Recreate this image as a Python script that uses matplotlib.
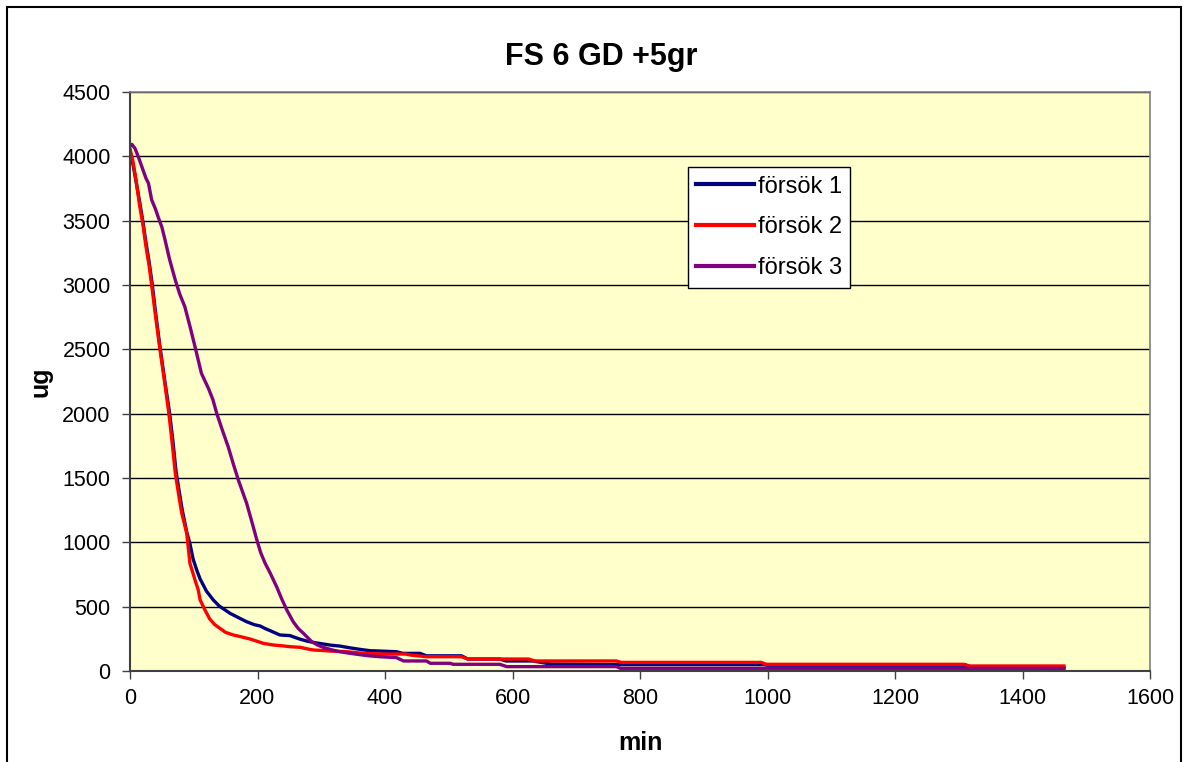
import matplotlib
matplotlib.use("Agg")
import matplotlib.pyplot as plt
from matplotlib.patches import Rectangle

plt.rcParams['font.family'] = ['Liberation Sans', 'DejaVu Sans']

# försök 1
t1 = [0, 5, 10, 15, 20, 25, 30, 35, 40, 47, 55, 62, 67, 72, 77, 82, 89, 94, 99, 105,
      110, 120, 131, 140, 157, 172, 183, 195, 204, 212, 220, 235, 251, 265, 277, 290,
      303, 316, 329, 345, 361, 376, 418, 428, 455, 465, 520, 530, 580, 590, 632, 660,
      766, 993, 1000, 1312, 1320, 1465]
y1 = [4040, 3930, 3790, 3650, 3500, 3330, 3180, 3000, 2790, 2520, 2240, 2010, 1800, 1560,
      1400, 1250, 1080, 990, 870, 780, 715, 620, 550, 505, 448, 410, 383, 360, 350, 330,
      313, 280, 275, 250, 233, 220, 210, 200, 194, 180, 168, 158, 150, 137, 137, 118,
      118, 93, 93, 78, 78, 54, 50, 50, 45, 45, 30, 25]

# försök 2
t2 = [0, 5, 10, 15, 20, 25, 30, 35, 40, 47, 55, 61, 66, 71, 76, 81, 89, 94, 102, 107,
      110, 118, 125, 133, 141, 150, 162, 175, 188, 200, 209, 225, 240, 251, 267, 280,
      288, 300, 314, 340, 360, 371, 392, 432, 440, 465, 520, 530, 625, 635, 763, 770,
      990, 998, 1308, 1316, 1465]
y2 = [4060, 3950, 3800, 3620, 3480, 3300, 3150, 2960, 2760, 2500, 2220, 2000, 1780, 1540,
      1380, 1230, 1070, 837, 707, 630, 552, 470, 405, 360, 332, 300, 280, 265, 249, 230,
      215, 202, 195, 189, 184, 170, 163, 160, 155, 150, 140, 137, 132, 132, 124, 111,
      111, 93, 93, 78, 78, 67, 67, 52, 52, 39, 39]

# försök 3
t3 = [0, 3, 8, 13, 20, 25, 29, 34, 40, 44, 50, 55, 62, 71, 78, 86, 94, 102, 112, 118,
      123, 130, 136, 145, 154, 162, 170, 183, 190, 199, 205, 212, 220, 230, 238, 246,
      256, 264, 272, 285, 295, 303, 316, 329, 342, 356, 375, 392, 418, 429, 465, 471,
      502, 507, 580, 591, 763, 769, 1465]
y3 = [4085, 4093, 4060, 3997, 3900, 3830, 3790, 3661, 3590, 3531, 3450, 3350, 3200, 3039,
      2930, 2831, 2680, 2520, 2314, 2250, 2197, 2110, 2003, 1870, 1743, 1610, 1484, 1303,
      1180, 1018, 920, 837, 760, 655, 560, 474, 383, 330, 293, 228, 200, 184, 165, 150,
      140, 130, 118, 111, 104, 78, 78, 60, 60, 52, 52, 34, 34, 21, 21]

series = [("försök 1", t1, y1, "#000080"),
          ("försök 2", t2, y2, "#ff0000"),
          ("försök 3", t3, y3, "#800080")]

fig = plt.figure(figsize=(11.84, 7.62), dpi=100)
ax = fig.add_axes([130 / 1184, 91 / 762, 1020 / 1184, 579 / 762])
ax.set_facecolor("#ffffcc")

for name, t, y, c in series:
    ax.plot(t, y, color=c, lw=2.4, label=name, solid_joinstyle="round")

ax.set_xlim(0, 1600)
ax.set_ylim(0, 4500)
ax.set_xticks(range(0, 1601, 200))
ax.set_yticks(range(0, 4501, 500))
ax.yaxis.grid(True, color="black", lw=1)
ax.set_axisbelow(True)
ax.tick_params(direction="out", length=6, width=1, color="#404040",
               labelsize=15.5)
ax.tick_params(axis="y", pad=8)
ax.tick_params(axis="x", pad=6)

for side in ["top", "right"]:
    ax.spines[side].set_color("#808080")
    ax.spines[side].set_linewidth(1.2)
for side in ["left", "bottom"]:
    ax.spines[side].set_color("#404040")
    ax.spines[side].set_linewidth(1.5)

fig.text(601 / 1184, 1 - 57 / 762, "FS 6 GD +5gr", fontsize=22, fontweight="bold",
         ha="center", va="center")
ax.set_xlabel("min", fontsize=18, fontweight="bold", labelpad=16)
ax.set_ylabel("ug", fontsize=18, fontweight="bold", labelpad=7)

leg = ax.legend(loc="upper left", bbox_to_anchor=(0.547, 0.870), borderaxespad=0,
                fancybox=False, edgecolor="black", framealpha=1, fontsize=17,
                handlelength=2.45, handletextpad=0.15, labelspacing=0.8,
                borderpad=0.35)
leg.get_frame().set_linewidth(1.0)
for h in leg.get_lines():
    h.set_linewidth(3)

# chart border
fig.add_artist(Rectangle((7 / 1184, -0.05), 1174 / 1184, 1.05 - 7 / 762,
                         transform=fig.transFigure, fill=False,
                         edgecolor="black", lw=1.5))

fig.savefig("out.png", dpi=100, facecolor="white")
